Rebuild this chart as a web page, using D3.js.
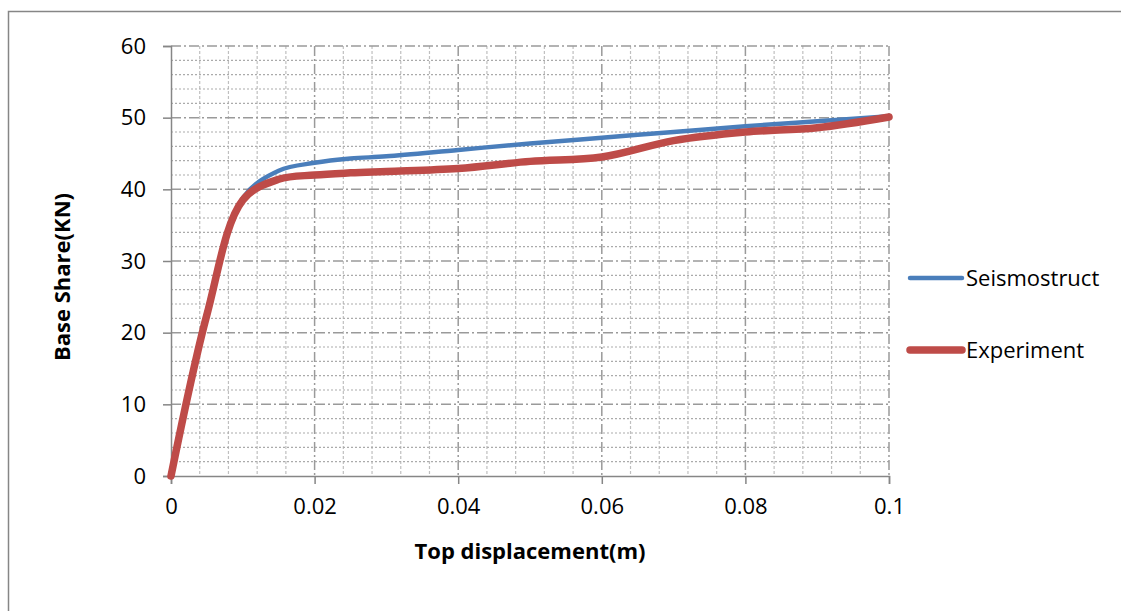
<!DOCTYPE html>
<html>
<head>
<meta charset="utf-8">
<script src="https://cdn.jsdelivr.net/npm/d3@7"></script>
<style>
  body { margin: 0; background: #fff; }
  text { font-family: "Open Sans", "Liberation Sans", sans-serif; }
</style>
</head>
<body>
<div id="chart"></div>
<script>
// Values
const seriesNames = ["Seismostruct", "Experiment"];
const seriesColors = ["#4a7ebb", "#be4b48"];

const seismostructX = [0, 0.005, 0.01, 0.015, 0.02, 0.025, 0.03, 0.04, 0.05, 0.06, 0.07, 0.08, 0.09, 0.1];
const seismostructY = [0, 23, 38.8, 42.6, 43.7, 44.3, 44.6, 45.5, 46.4, 47.2, 48, 48.8, 49.5, 50.2];

const experimentX = [0, 0.005, 0.01, 0.015, 0.02, 0.025, 0.03, 0.04, 0.05, 0.06, 0.07, 0.08, 0.09, 0.1];
const experimentY = [0, 22.5, 38.5, 41.4, 42, 42.3, 42.5, 42.9, 43.9, 44.5, 46.8, 48, 48.6, 50.1];

const xTicks = [0, 0.02, 0.04, 0.06, 0.08, 0.1];
const yTicks = [0, 10, 20, 30, 40, 50, 60];

const margin = { top: 46, right: 232, bottom: 135, left: 171 },
    width = 1121 - margin.left - margin.right,
    height = 611 - margin.top - margin.bottom;

const root = d3.select("#chart")
    .append("svg")
    .attr("width", 1121)
    .attr("height", 611);

root.append("rect")
    .attr("width", 1121).attr("height", 611).attr("fill", "#fff");

// outer chart border (runs off the right / bottom edge)
root.append("rect")
    .attr("x", 8.5).attr("y", 11.5)
    .attr("width", 1200).attr("height", 700)
    .attr("fill", "none")
    .attr("stroke", "#868686")
    .attr("stroke-width", 1.5);

const svg = root.append("g")
    .attr("transform", `translate(${margin.left},${margin.top})`);

const xScale = d3.scaleLinear().domain([0, 0.1]).range([0, width]);
const yScale = d3.scaleLinear().domain([0, 60]).range([height, 0]);

// minor grid
const xMinor = d3.range(0.004, 0.1, 0.004).filter(v => Math.abs(v / 0.02 - Math.round(v / 0.02)) > 1e-6);
const yMinor = d3.range(2, 60, 2).filter(v => v % 10 !== 0);

svg.append("g").selectAll("line")
    .data(xMinor)
    .join("line")
    .attr("x1", d => xScale(d)).attr("x2", d => xScale(d))
    .attr("y1", 0).attr("y2", height)
    .attr("stroke", "#bfbfbf")
    .attr("stroke-width", 1.2)
    .attr("stroke-dasharray", "3,2");

svg.append("g").selectAll("line")
    .data(yMinor)
    .join("line")
    .attr("x1", 0).attr("x2", width)
    .attr("y1", d => yScale(d)).attr("y2", d => yScale(d))
    .attr("stroke", "#ababab")
    .attr("stroke-width", 1.2)
    .attr("stroke-dasharray", "2,2");

// major grid (dash-dot)
svg.append("g").selectAll("line")
    .data(xTicks.slice(1))
    .join("line")
    .attr("x1", d => xScale(d)).attr("x2", d => xScale(d))
    .attr("y1", 0).attr("y2", height)
    .attr("stroke", "#9a9a9a")
    .attr("stroke-width", 1.5)
    .attr("stroke-dasharray", "10,3,2,3");

svg.append("g").selectAll("line")
    .data(yTicks.slice(1))
    .join("line")
    .attr("x1", 0).attr("x2", width)
    .attr("y1", d => yScale(d)).attr("y2", d => yScale(d))
    .attr("stroke", "#9a9a9a")
    .attr("stroke-width", 1.5)
    .attr("stroke-dasharray", "10,3,2,3");

// axes
const xAxis = d3.axisBottom(xScale).tickValues(xTicks).tickSize(8).tickPadding(14)
    .tickFormat(d => d === 0 ? "0" : d3.format("~g")(d));
const yAxis = d3.axisLeft(yScale).tickValues(yTicks).tickSize(8).tickPadding(17);

const xAxisGroup = svg.append("g")
    .attr("transform", `translate(0,${height})`)
    .call(xAxis);
const yAxisGroup = svg.append("g").call(yAxis);

[xAxisGroup, yAxisGroup].forEach(g => {
    g.select(".domain").attr("stroke", "#868686").attr("stroke-width", 1.5);
    g.selectAll(".tick line").attr("stroke", "#868686").attr("stroke-width", 1.5);
    g.selectAll(".tick text")
        .attr("fill", "#000")
        .attr("font-size", 22)
        .attr("font-family", "'Open Sans', sans-serif");
});

// lines
const line = d3.line()
    .x(d => xScale(d[0]))
    .y(d => yScale(d[1]))
    .curve(d3.curveCatmullRom.alpha(0.5));

const series = [
    { name: seriesNames[0], color: seriesColors[0], width: 4.5, pts: d3.zip(seismostructX, seismostructY) },
    { name: seriesNames[1], color: seriesColors[1], width: 7.5, pts: d3.zip(experimentX, experimentY) }
];

svg.selectAll(".line")
    .data(series)
    .join("path")
    .attr("class", "line")
    .attr("fill", "none")
    .attr("stroke", d => d.color)
    .attr("stroke-width", d => d.width)
    .attr("stroke-linecap", "round")
    .attr("stroke-linejoin", "round")
    .attr("d", d => line(d.pts));

// legend
const legendY = [278, 350];
series.forEach((s, i) => {
    root.append("line")
        .attr("x1", 910).attr("x2", 962)
        .attr("y1", legendY[i]).attr("y2", legendY[i])
        .attr("stroke", s.color)
        .attr("stroke-width", s.width)
        .attr("stroke-linecap", "round");
    root.append("text")
        .attr("x", 966)
        .attr("y", legendY[i])
        .attr("dy", "0.35em")
        .attr("font-size", 22)
        .attr("fill", "#000")
        .text(s.name);
});

// axis titles
root.append("text")
    .attr("text-anchor", "middle")
    .attr("x", 530)
    .attr("y", 551)
    .attr("dy", "0.35em")
    .attr("font-size", 22)
    .attr("font-weight", "bold")
    .text("Top displacement(m)");

root.append("text")
    .attr("text-anchor", "middle")
    .attr("transform", "translate(62,277) rotate(-90)")
    .attr("dy", "0.35em")
    .attr("font-size", 22)
    .attr("font-weight", "bold")
    .text("Base Share(KN)");
</script>
</body>
</html>
